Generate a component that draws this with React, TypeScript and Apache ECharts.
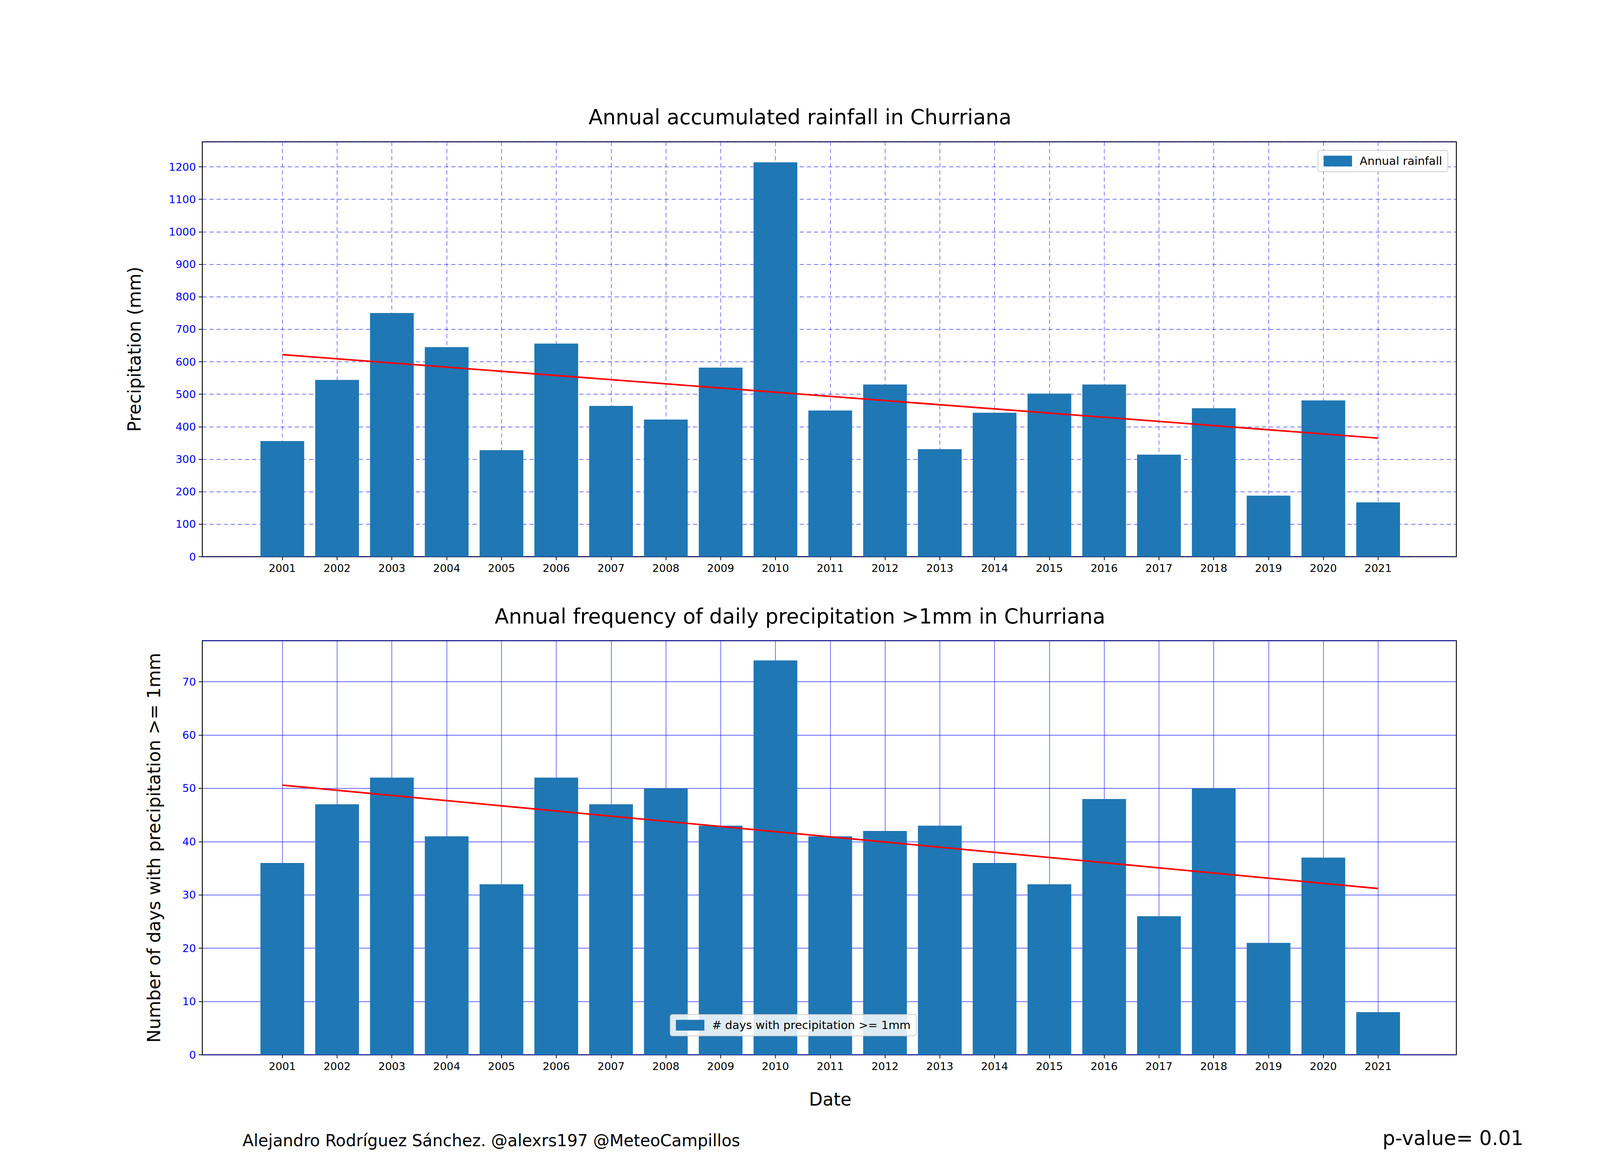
import { useEffect, useRef } from "react";
import * as echarts from "echarts";

const years = [2001,2002,2003,2004,2005,2006,2007,2008,2009,2010,2011,2012,2013,2014,2015,2016,2017,2018,2019,2020,2021];
const rainfall = [356,544,750,645,328,656,464,422,582,1214,450,530,331,443,502,530,314,457,188,481,167];
const rainDays = [36,47,52,41,32,52,47,50,43,74,41,42,43,36,32,48,26,50,21,37,8];
const rainTrend = [622, 365];
const daysTrend = [50.6, 31.2];

const FONT = "DejaVu Sans";
const BLUE = "#1f77b4";

const App = () => {
  const ref = useRef<HTMLDivElement>(null);
  useEffect(() => {
    if (!ref.current) return;
    const W = ref.current.clientWidth;
    const H = ref.current.clientHeight;
    const kx = W / 4500;
    const ky = H / 3000;
    const k = Math.min(kx, ky);
    const X = (v: number) => v * kx;
    const Y = (v: number) => v * ky;
    const F = (v: number) => v * k;
    const chart = echarts.init(ref.current, null, { renderer: "svg" });
    const outer = (top: number, bottom: number) => ({ left: X(569), right: X(404), top: Y(top), bottom: Y(bottom), show: true, borderColor: "#000", borderWidth: F(2.5), backgroundColor: "transparent" });
    const inner = (top: number, bottom: number) => ({ left: X(794), right: X(624), top: Y(top), bottom: Y(bottom) });
    const bars = (d: number[]) => years.map((y, i) => [y, d[i]]);
    const tick = { show: true, length: F(10), lineStyle: { color: "#000", width: F(2) } };
    const yLbl = { color: "#0000ff", fontSize: F(30), fontFamily: FONT, margin: F(18), showMaxLabel: false, formatter: (v: number) => String(v) };
    const xLbl = { fontSize: F(30), color: "#000", margin: F(18), fontFamily: FONT, formatter: (v: number) => String(v) };
    const dashed = { show: true, lineStyle: { color: "rgba(0,0,255,0.55)", type: [F(12), F(8)], width: F(2) } };
    const solid = { show: true, lineStyle: { color: "rgba(0,0,255,0.6)", width: F(2) } };
    const legendBase = {
      orient: "vertical", icon: "rect", itemWidth: F(80), itemHeight: F(30),
      textStyle: { fontSize: F(32), fontFamily: FONT, color: "#000", padding: [0, 0, 0, F(16)] },
      backgroundColor: "rgba(255,255,255,0.85)", borderColor: "#ccc", borderWidth: F(2), borderRadius: F(6), padding: [F(14), F(16)],
    };
    chart.setOption({
      animation: false,
      textStyle: { fontFamily: FONT },
      title: [
        { text: "Annual accumulated rainfall in Churriana", left: "center", top: Y(268), textStyle: { fontSize: F(58), fontWeight: "normal", fontFamily: FONT, color: "#000" } },
        { text: "Annual frequency of daily precipitation >1mm in Churriana", left: "center", top: Y(1546), textStyle: { fontSize: F(58), fontWeight: "normal", fontFamily: FONT, color: "#000" } },
      ],
      grid: [outer(363, 1575), inner(363, 1575), outer(1640, 300), inner(1640, 300)],
      xAxis: [
        { gridIndex: 0, type: "value", show: false, min: 0, max: 1 },
        { gridIndex: 1, type: "value", min: 2001, max: 2021, interval: 1, axisLine: { show: false }, axisTick: tick, axisLabel: xLbl, splitLine: dashed },
        { gridIndex: 2, type: "value", show: false, min: 0, max: 1 },
        { gridIndex: 3, type: "value", min: 2001, max: 2021, interval: 1,
          name: "Date", nameLocation: "middle", nameGap: F(100), nameTextStyle: { fontSize: F(50), color: "#000", fontFamily: FONT },
          axisLine: { show: false }, axisTick: tick, axisLabel: xLbl, splitLine: solid },
      ],
      yAxis: [
        { gridIndex: 0, type: "value", min: 0, max: 1277, interval: 100,
          name: "Precipitation (mm)", nameLocation: "middle", nameGap: F(165), nameTextStyle: { fontSize: F(50), color: "#000", fontFamily: FONT },
          axisLine: { show: false }, axisTick: tick, axisLabel: yLbl, splitLine: dashed },
        { gridIndex: 1, type: "value", min: 0, max: 1277, show: false, splitLine: { show: false } },
        { gridIndex: 2, type: "value", min: 0, max: 77.7, interval: 10,
          name: "Number of days with precipitation >= 1mm", nameLocation: "middle", nameGap: F(110), nameTextStyle: { fontSize: F(50), color: "#000", fontFamily: FONT },
          axisLine: { show: false }, axisTick: tick, axisLabel: yLbl, splitLine: solid },
        { gridIndex: 3, type: "value", min: 0, max: 77.7, show: false, splitLine: { show: false } },
      ],
      legend: [
        { ...legendBase, data: ["Annual rainfall"], right: X(428), top: Y(385) },
        { ...legendBase, data: ["# days with precipitation >= 1mm"], left: X(1885), top: Y(2597) },
      ],
      series: [
        { name: "Annual rainfall", type: "bar", xAxisIndex: 1, yAxisIndex: 1, data: bars(rainfall), barWidth: X(123), clip: false, itemStyle: { color: BLUE }, z: 1 },
        { type: "line", xAxisIndex: 1, yAxisIndex: 1, data: [[2001, rainTrend[0]], [2021, rainTrend[1]]], symbol: "none", lineStyle: { color: "#ff0000", width: F(4.5) }, z: 5 },
        { name: "# days with precipitation >= 1mm", type: "bar", xAxisIndex: 3, yAxisIndex: 3, data: bars(rainDays), barWidth: X(123), clip: false, itemStyle: { color: BLUE }, z: 1 },
        { type: "line", xAxisIndex: 3, yAxisIndex: 3, data: [[2001, daysTrend[0]], [2021, daysTrend[1]]], symbol: "none", lineStyle: { color: "#ff0000", width: F(4.5) }, z: 5 },
      ],
      graphic: [
        { type: "text", left: X(682), top: Y(2898), style: { text: "Alejandro Rodríguez Sánchez. @alexrs197 @MeteoCampillos", fontSize: F(46), fontFamily: FONT, fill: "#000" } },
        { type: "text", right: X(215), top: Y(2888), style: { text: "p-value= 0.01", fontSize: F(56), fontFamily: FONT, fill: "#000" } },
      ],
    });
    return () => chart.dispose();
  }, []);
  return <div ref={ref} style={{ position: "fixed", left: 0, top: 0, width: "100vw", height: "100vh", background: "#fff" }} />;
};

export default App;
